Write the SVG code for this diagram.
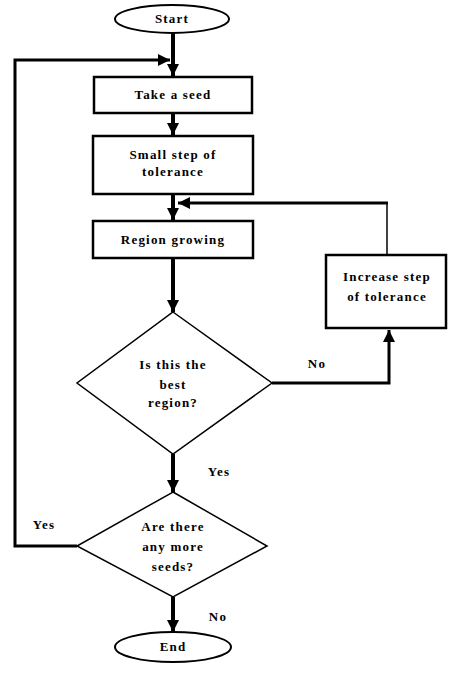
<svg xmlns="http://www.w3.org/2000/svg" width="453" height="673" viewBox="0 0 453 673">
<defs>
<style>
.t{font-family:"Liberation Serif","Times New Roman",serif;font-weight:bold;font-size:13px;letter-spacing:1.2px;fill:#000;text-anchor:middle}
.box{fill:#fff;stroke:#000;stroke-width:2.5}
.dia{fill:#fff;stroke:#000;stroke-width:1.5}
.w{fill:none;stroke:#000;stroke-width:4}
.w3{fill:none;stroke:#000;stroke-width:3}
.w1{fill:none;stroke:#000;stroke-width:1.5}
</style>
<marker id="ah" viewBox="0 0 10 10" refX="10" refY="5" markerWidth="3" markerHeight="3" markerUnits="strokeWidth" orient="auto">
<path d="M0,0 L10,5 L0,10 z" fill="#000"/>
</marker>
<marker id="ah2" viewBox="0 0 10 10" refX="10" refY="5" markerWidth="4" markerHeight="4" markerUnits="strokeWidth" orient="auto">
<path d="M0,0 L10,5 L0,10 z" fill="#000"/>
</marker>
</defs>
<g id="connectors">
<line class="w" x1="173" y1="33" x2="173" y2="76" marker-end="url(#ah)"/>
<polyline class="w3" points="77,546 15,546 15,60 170,60" marker-end="url(#ah2)"/>
<line class="w" x1="173" y1="113" x2="173" y2="135" marker-end="url(#ah)"/>
<line class="w" x1="173" y1="194" x2="173" y2="220" marker-end="url(#ah)"/>
<line class="w1" x1="387" y1="255" x2="387" y2="203"/>
<line class="w3" x1="388" y1="203" x2="178" y2="203" marker-end="url(#ah2)"/>
<line class="w" x1="173" y1="258" x2="173" y2="312" marker-end="url(#ah)"/>
<polyline class="w3" points="272,383 389,383 389,330" marker-end="url(#ah2)"/>
<line class="w" x1="173" y1="454" x2="173" y2="492" marker-end="url(#ah)"/>
<line class="w" x1="173" y1="597" x2="173" y2="632" marker-end="url(#ah)"/>
<text class="t" x="317" y="368">No</text>
<text class="t" x="219" y="476">Yes</text>
<text class="t" x="44" y="529">Yes</text>
<text class="t" x="218" y="621">No</text>
</g>
<g id="start">
<ellipse cx="172" cy="19" rx="57" ry="14" fill="#fff" stroke="#000" stroke-width="2"/>
<text class="t" x="172" y="23">Start</text>
</g>
<g id="take-seed">
<rect class="box" x="94" y="77" width="158" height="36"/>
<text class="t" x="173" y="99">Take a seed</text>
</g>
<g id="small-step">
<rect class="box" x="93" y="136" width="160" height="58" stroke-width="3.5"/>
<text class="t" x="173" y="159">Small step of</text>
<text class="t" x="173" y="176">tolerance</text>
</g>
<g id="region-growing">
<rect class="box" x="93" y="221" width="160" height="37"/>
<text class="t" x="173" y="244">Region growing</text>
</g>
<g id="increase-step">
<rect class="box" x="326" y="255" width="120" height="73" stroke-width="3"/>
<text class="t" x="387" y="281">Increase step</text>
<text class="t" x="387" y="301">of tolerance</text>
</g>
<g id="best-region">
<polygon class="dia" points="173,312 272,383 173,454 77,383"/>
<text class="t" x="173" y="369">Is this the</text>
<text class="t" x="173" y="389">best</text>
<text class="t" x="173" y="407">region?</text>
</g>
<g id="more-seeds">
<polygon class="dia" points="173,492 267,546 173,597 77,546"/>
<text class="t" x="173" y="531">Are there</text>
<text class="t" x="173" y="551">any more</text>
<text class="t" x="173" y="571">seeds?</text>
</g>
<g id="end">
<ellipse cx="173" cy="647" rx="58" ry="15" fill="#fff" stroke="#000" stroke-width="2"/>
<text class="t" x="173" y="651">End</text>
</g>
</svg>
